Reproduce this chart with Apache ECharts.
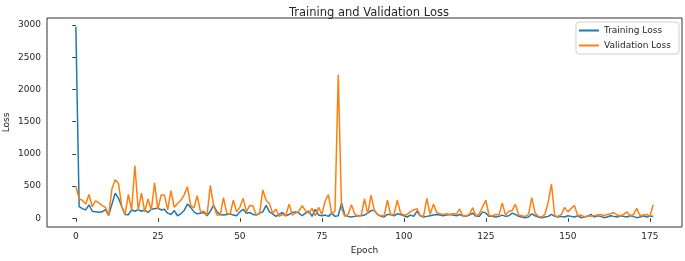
<!DOCTYPE html>
<html>
<head>
<meta charset="utf-8">
<script src="https://cdn.jsdelivr.net/npm/echarts@6/dist/echarts.min.js"></script>
<style>
  html, body { margin: 0; padding: 0; background: #fff; }
  #chart { width: 685px; height: 261px; }
</style>
</head>
<body>
<div id="chart"></div>
<script>
// values, one per epoch (0..176)
var trainLoss = [
	2975, 180, 150, 130, 210, 110, 100, 95, 100, 135,
	45, 220, 390, 310, 180, 60, 55, 130, 110, 135,
	110, 130, 90, 140, 150, 160, 130, 140, 80, 60,
	120, 40, 70, 120, 220, 170, 100, 70, 80, 90,
	40, 110, 200, 100, 60, 50, 60, 70, 50, 40,
	100, 140, 80, 90, 60, 50, 80, 100, 200, 100,
	70, 30, 60, 90, 40, 60, 90, 100, 80, 40,
	80, 110, 30, 140, 50, 40, 50, 30, 80, 30,
	40, 240, 50, 30, 20, 30, 40, 40, 50, 80,
	120, 120, 60, 30, 20, 60, 60, 40, 70, 60,
	40, 20, 50, 30, 110, 40, 20, 30, 40, 50,
	60, 50, 40, 50, 60, 50, 40, 60, 40, 30,
	50, 80, 30, 30, 100, 80, 30, 30, 20, 30,
	50, 30, 40, 80, 60, 30, 20, 10, 20, 70,
	40, 20, 10, 20, 30, 60, 30, 20, 30, 20,
	40, 30, 20, 40, 10, 20, 30, 60, 20, 40,
	30, 10, 20, 40, 30, 20, 40, 30, 20, 40,
	30, 10, 20, 40, 20, 30, 30
];
var valLoss = [
	500, 300, 280, 220, 370, 180, 270, 240, 200, 170,
	50, 460, 600, 540, 180, 60, 370, 130, 820, 130,
	390, 100, 300, 130, 550, 140, 360, 360, 130, 430,
	170, 230, 280, 360, 490, 200, 160, 350, 100, 110,
	50, 510, 200, 50, 50, 320, 80, 60, 280, 100,
	170, 310, 100, 200, 190, 50, 70, 440, 280, 230,
	80, 140, 30, 60, 40, 220, 50, 80, 110, 195,
	120, 80, 155, 40, 170, 60, 270, 370, 70, 110,
	2230, 150, 30, 60, 210, 70, 30, 50, 300, 70,
	360, 120, 60, 40, 40, 280, 50, 60, 280, 80,
	50, 60, 100, 130, 150, 40, 30, 310, 60, 220,
	90, 70, 60, 70, 60, 70, 65, 145, 30, 40,
	60, 165, 30, 70, 180, 280, 40, 40, 60, 50,
	240, 50, 110, 120, 220, 50, 40, 30, 60, 320,
	80, 30, 20, 60, 250, 530, 40, 30, 60, 170,
	100, 150, 200, 40, 50, 20, 40, 30, 40, 50,
	60, 40, 60, 70, 90, 50, 40, 60, 100, 40,
	60, 155, 40, 50, 60, 30, 210
];
var xTicks = [0, 25, 50, 75, 100, 125, 150, 175];
var yTicks = [0, 500, 1000, 1500, 2000, 2500, 3000];

var font = 'DejaVu Sans';
var textColor = '#262626';

function pairs(arr) {
	return arr.map(function(v, i) { return [i, v]; });
}

var myChart = echarts.init(document.getElementById('chart'), null, {renderer: 'canvas'});

myChart.setOption({
	animation: false,
	backgroundColor: '#fff',
	textStyle: {fontFamily: font, color: textColor},
	title: {
		text: 'Training and Validation Loss',
		left: 364, top: 2, textAlign: 'center',
		textStyle: {fontFamily: font, fontSize: 11.5, fontWeight: 'normal', color: textColor}
	},
	grid: {
		left: 47, right: 3, top: 18, bottom: 34,
		outerBoundsMode: 'none',
		show: true, borderColor: '#333', borderWidth: 1, backgroundColor: 'transparent'
	},
	legend: {
		orient: 'vertical',
		right: 6, top: 22,
		padding: [4, 8, 4, 3],
		icon: 'rect',
		itemWidth: 20, itemHeight: 2, itemGap: 6,
		backgroundColor: '#fff',
		borderColor: '#d0d0d0', borderWidth: 1, borderRadius: 3,
		textStyle: {fontFamily: font, fontSize: 9, color: textColor},
		data: ['Training Loss', 'Validation Loss']
	},
	xAxis: {
		type: 'value',
		min: -8.8, max: 184.8,
		name: 'Epoch', nameLocation: 'middle', nameGap: 19,
		nameMoveOverlap: false,
		nameTextStyle: {fontFamily: font, fontSize: 9, color: textColor},
		axisLine: {show: false},
		axisTick: {show: true, length: 3.5, lineStyle: {color: '#333'}, customValues: xTicks},
		axisLabel: {fontFamily: font, fontSize: 9, color: textColor, margin: 5, customValues: xTicks},
		splitLine: {show: false}
	},
	yAxis: {
		type: 'value',
		min: -135, max: 3110,
		name: 'Loss', nameLocation: 'middle', nameGap: 36, nameRotate: 90,
		nameMoveOverlap: false,
		nameTextStyle: {fontFamily: font, fontSize: 9, color: textColor},
		axisLine: {show: false},
		axisTick: {show: true, length: 3.5, lineStyle: {color: '#333'}, customValues: yTicks},
		axisLabel: {
			fontFamily: font, fontSize: 9, color: textColor, margin: 6, customValues: yTicks,
			formatter: function(v) { return String(v); }
		},
		splitLine: {show: false}
	},
	series: [
		{
			name: 'Training Loss', type: 'line', data: pairs(trainLoss),
			symbol: 'none', color: '#1f77b4', lineStyle: {width: 1.5}, z: 2
		},
		{
			name: 'Validation Loss', type: 'line', data: pairs(valLoss),
			symbol: 'none', color: '#ff7f0e', lineStyle: {width: 1.5}, z: 3
		}
	]
});

window.onresize = function() {
	myChart.resize();
};
</script>
</body>
</html>
